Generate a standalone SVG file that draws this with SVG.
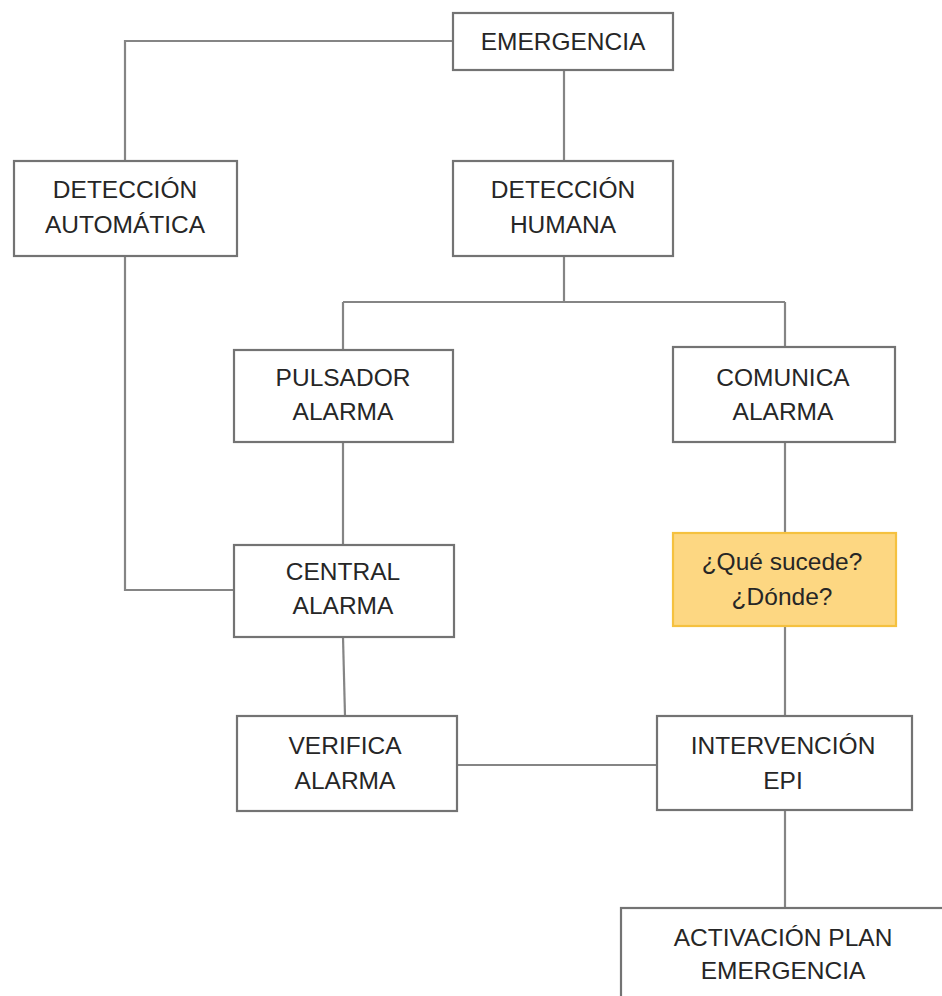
<svg xmlns="http://www.w3.org/2000/svg" width="942" height="996" viewBox="0 0 942 996">
<style>
.box{fill:#fff;stroke:#737373;stroke-width:2.2}
.hl{fill:#fdd782;stroke:#f5c13f;stroke-width:2.2}
.t{font-family:"Liberation Sans",Arial,sans-serif;font-size:24.5px;fill:#262626;text-anchor:middle;dominant-baseline:central}
.c{fill:none;stroke:#858585;stroke-width:2.2}
</style>
<rect width="942" height="996" fill="#fff"/>
<g id="connectors">
<path class="c" d="M453 41H125V161"/>
<path class="c" d="M564 70V161"/>
<path class="c" d="M125 256V590H234"/>
<path class="c" d="M564 256V302M343 302H785M343 302V350M785 302V347"/>
<path class="c" d="M343 442V545"/>
<path class="c" d="M343 637L345 716"/>
<path class="c" d="M785 442V533"/>
<path class="c" d="M785 626V716"/>
<path class="c" d="M457 765H657"/>
<path class="c" d="M785 810V908"/>
</g>
<g id="emergencia"><rect class="box" x="453" y="13" width="220" height="57"/><text class="t" x="563" y="41">EMERGENCIA</text></g>
<g id="deteccion-automatica"><rect class="box" x="14" y="161" width="223" height="95"/><text class="t" x="125" y="189">DETECCIÓN</text><text class="t" x="125" y="224">AUTOMÁTICA</text></g>
<g id="deteccion-humana"><rect class="box" x="453" y="161" width="220" height="95"/><text class="t" x="563" y="189">DETECCIÓN</text><text class="t" x="563" y="224">HUMANA</text></g>
<g id="pulsador-alarma"><rect class="box" x="234" y="350" width="219" height="92"/><text class="t" x="343" y="377">PULSADOR</text><text class="t" x="343" y="411">ALARMA</text></g>
<g id="comunica-alarma"><rect class="box" x="673" y="347" width="222" height="95"/><text class="t" x="783" y="377">COMUNICA</text><text class="t" x="783" y="411">ALARMA</text></g>
<g id="que-sucede"><rect class="hl" x="673" y="533" width="223" height="93"/><text class="t" x="782" y="561">¿Qué sucede?</text><text class="t" x="782" y="596">¿Dónde?</text></g>
<g id="central-alarma"><rect class="box" x="234" y="545" width="220" height="92"/><text class="t" x="343" y="571">CENTRAL</text><text class="t" x="343" y="605">ALARMA</text></g>
<g id="verifica-alarma"><rect class="box" x="237" y="716" width="220" height="95"/><text class="t" x="345" y="745">VERIFICA</text><text class="t" x="345" y="780">ALARMA</text></g>
<g id="intervencion-epi"><rect class="box" x="657" y="716" width="255" height="94"/><text class="t" x="783" y="745">INTERVENCIÓN</text><text class="t" x="783" y="780">EPI</text></g>
<g id="activacion-plan"><rect class="box" x="621" y="908" width="340" height="100"/><text class="t" x="783" y="937">ACTIVACIÓN PLAN</text><text class="t" x="783" y="970">EMERGENCIA</text></g>
</svg>
